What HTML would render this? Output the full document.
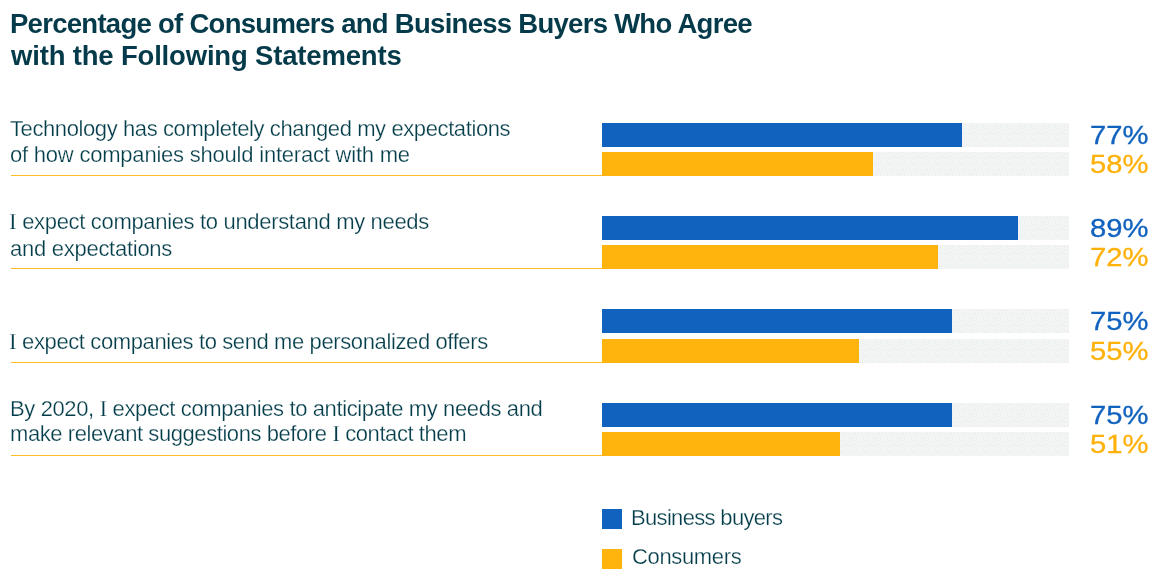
<!DOCTYPE html>
<html>
<head>
<meta charset="utf-8">
<style>
html,body{margin:0;padding:0;background:#fff;}
body{width:1176px;height:582px;position:relative;overflow:hidden;font-family:"Liberation Sans",sans-serif;}
.t{position:absolute;line-height:0;white-space:nowrap;will-change:transform;}
.title{font-weight:bold;font-size:27.5px;color:#053a4a;}
.txt{font-size:22px;color:#043d4a;-webkit-text-stroke:0.25px #fff;}
.pct{font-size:25px;-webkit-text-stroke:0.3px currentColor;}
.pb{color:#1062be;}
.py{color:#ffb10a;}

.bar{position:absolute;height:24px;}
.bb{background:#1062be;}
.by{background:#ffb30d;}
.rule{position:absolute;left:11px;width:591px;height:1px;background:#ffbb26;}
.sw{position:absolute;left:602px;width:20px;height:20px;}
.leg{font-size:22px;color:#043d4a;-webkit-text-stroke:0.25px #fff;}
.si{font-family:"Liberation Serif",serif;font-size:23.2px;}

</style>
</head>
<body>
<svg style="position:absolute;left:0;top:0" width="1176" height="582"><defs><pattern id="dots" width="12" height="12" patternUnits="userSpaceOnUse"><g fill="#d6e0e6" fill-opacity="0.45"><rect x="5" y="2" width="1" height="1"/><rect x="6" y="10" width="1" height="1"/><rect x="0" y="1" width="1" height="1"/><rect x="8" y="1" width="1" height="1"/><rect x="0" y="8" width="1" height="1"/><rect x="3" y="0" width="1" height="1"/><rect x="1" y="6" width="1" height="1"/><rect x="8" y="6" width="1" height="1"/><rect x="1" y="3" width="1" height="1"/><rect x="10" y="10" width="1" height="1"/><rect x="6" y="0" width="1" height="1"/><rect x="4" y="6" width="1" height="1"/><rect x="2" y="8" width="1" height="1"/><rect x="4" y="8" width="1" height="1"/><rect x="10" y="2" width="1" height="1"/><rect x="5" y="4" width="1" height="1"/><rect x="3" y="2" width="1" height="1"/><rect x="11" y="7" width="1" height="1"/><rect x="8" y="9" width="1" height="1"/><rect x="11" y="5" width="1" height="1"/></g></pattern></defs><rect x="602" y="123" width="467" height="24" fill="#f3f4f4"/><rect x="602" y="123" width="467" height="24" fill="url(#dots)"/><rect x="602" y="152" width="467" height="24" fill="#f3f4f4"/><rect x="602" y="152" width="467" height="24" fill="url(#dots)"/><rect x="602" y="216" width="467" height="24" fill="#f3f4f4"/><rect x="602" y="216" width="467" height="24" fill="url(#dots)"/><rect x="602" y="245" width="467" height="24" fill="#f3f4f4"/><rect x="602" y="245" width="467" height="24" fill="url(#dots)"/><rect x="602" y="309" width="467" height="24" fill="#f3f4f4"/><rect x="602" y="309" width="467" height="24" fill="url(#dots)"/><rect x="602" y="339" width="467" height="24" fill="#f3f4f4"/><rect x="602" y="339" width="467" height="24" fill="url(#dots)"/><rect x="602" y="403" width="467" height="24" fill="#f3f4f4"/><rect x="602" y="403" width="467" height="24" fill="url(#dots)"/><rect x="602" y="432" width="467" height="24" fill="#f3f4f4"/><rect x="602" y="432" width="467" height="24" fill="url(#dots)"/></svg>
<div class="rule" style="top:175px"></div>
<div class="rule" style="top:268px"></div>
<div class="rule" style="top:362px"></div>
<div class="rule" style="top:455px"></div>
<div class="bar bb" style="left:602px;top:123px;width:360px"></div>
<div class="bar by" style="left:602px;top:152px;width:271px"></div>
<div class="bar bb" style="left:602px;top:216px;width:416px"></div>
<div class="bar by" style="left:602px;top:245px;width:336px"></div>
<div class="bar bb" style="left:602px;top:309px;width:350px"></div>
<div class="bar by" style="left:602px;top:339px;width:257px"></div>
<div class="bar bb" style="left:602px;top:403px;width:350px"></div>
<div class="bar by" style="left:602px;top:432px;width:238px"></div>
<div class="sw bb" style="top:509px"></div>
<div class="sw by" style="top:549px"></div>

<div class="t title" style="left:10.00px;top:23.97px;letter-spacing:-0.719px">Percentage of Consumers and Business Buyers Who Agree</div>
<div class="t title" style="left:10.50px;top:55.72px;letter-spacing:-0.179px">with the Following Statements</div>
<div class="t txt" style="left:9.50px;top:128.88px;letter-spacing:-0.400px">Technology has completely changed my expectations</div>
<div class="t txt" style="left:10.00px;top:154.88px;letter-spacing:-0.215px">of how companies should interact with me</div>
<div class="t txt" style="left:9.00px;top:221.38px;letter-spacing:-0.327px"><span class="si">I</span> expect companies to understand my needs</div>
<div class="t txt" style="left:10.00px;top:248.88px;letter-spacing:-0.267px">and expectations</div>
<div class="t txt" style="left:9.00px;top:340.88px;letter-spacing:-0.387px"><span class="si">I</span> expect companies to send me personalized offers</div>
<div class="t txt" style="left:10.00px;top:408.38px;letter-spacing:-0.385px">By 2020, <span class="si">I</span> expect companies to anticipate my needs and</div>
<div class="t txt" style="left:9.50px;top:433.38px;letter-spacing:-0.426px">make relevant suggestions before <span class="si">I</span> contact them</div>
<div class="t leg" style="left:630.50px;top:517.88px;letter-spacing:-0.671px">Business buyers</div>
<div class="t leg" style="left:631.50px;top:557.38px;letter-spacing:-0.350px">Consumers</div>
<div class="t pct pb" style="left:1090.00px;top:135.34px;letter-spacing:0.000px;transform:scaleX(1.1667);transform-origin:0 0">77%</div>
<div class="t pct py" style="left:1090.00px;top:163.84px;letter-spacing:0.000px;transform:scaleX(1.1667);transform-origin:0 0">58%</div>
<div class="t pct pb" style="left:1090.00px;top:228.00px;letter-spacing:0.000px;transform:scaleX(1.1667);transform-origin:0 0">89%</div>
<div class="t pct py" style="left:1090.00px;top:257.10px;letter-spacing:0.000px;transform:scaleX(1.1667);transform-origin:0 0">72%</div>
<div class="t pct pb" style="left:1090.00px;top:320.66px;letter-spacing:0.000px;transform:scaleX(1.1667);transform-origin:0 0">75%</div>
<div class="t pct py" style="left:1090.00px;top:350.83px;letter-spacing:0.000px;transform:scaleX(1.1667);transform-origin:0 0">55%</div>
<div class="t pct pb" style="left:1090.00px;top:415.32px;letter-spacing:0.000px;transform:scaleX(1.1667);transform-origin:0 0">75%</div>
<div class="t pct py" style="left:1090.00px;top:443.82px;letter-spacing:0.000px;transform:scaleX(1.1667);transform-origin:0 0">51%</div>
</body>
</html>
